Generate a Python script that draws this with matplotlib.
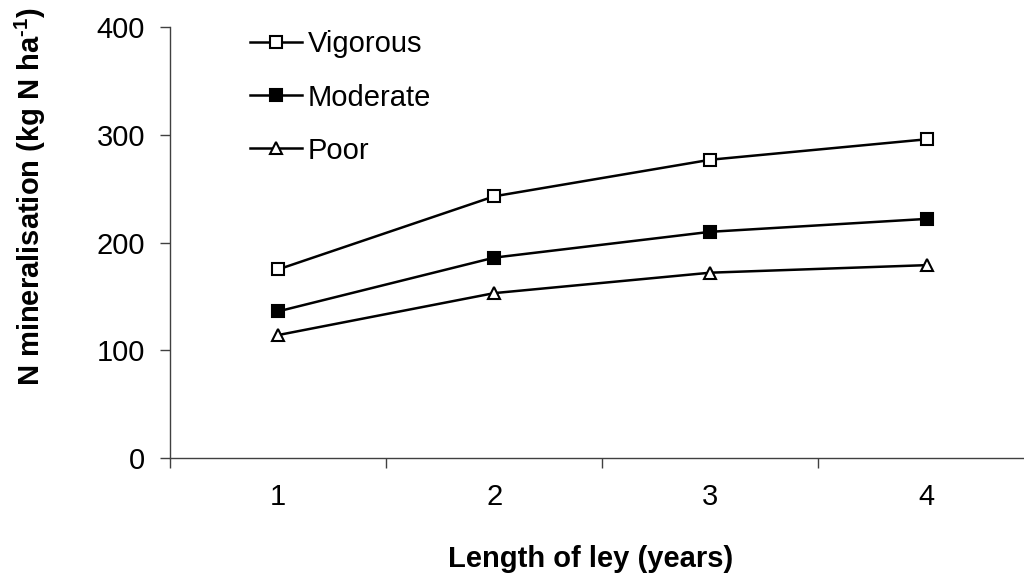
import matplotlib
matplotlib.use("Agg")
from matplotlib import pyplot as plt
from matplotlib.ticker import FixedLocator

plt.rcParams['font.family'] = ['Liberation Sans', 'DejaVu Sans']
plt.rcParams['mathtext.fontset'] = 'custom'
plt.rcParams['mathtext.rm'] = 'Liberation Sans:bold'
plt.rcParams['mathtext.bf'] = 'Liberation Sans:bold'

years = [1, 2, 3, 4]
year_labels = ['1', '2', '3', '4']
vigorous = [175, 243, 277, 296]
moderate = [136, 186, 210, 222]
poor = [114, 153, 172, 179]

fig = plt.figure(figsize=(10.24, 5.76), dpi=100)
ax = fig.add_axes([0.166, 0.2054, 0.8444, 0.747])

ax.plot(years, vigorous, color='black', lw=1.8, marker='s', ms=8,
        mfc='white', mec='black', mew=1.5, label='Vigorous')
ax.plot(years, moderate, color='black', lw=1.8, marker='s', ms=8,
        mfc='black', mec='black', mew=1.5, label='Moderate')
ax.plot(years, poor, color='black', lw=1.8, marker='^', ms=9,
        mfc='white', mec='black', mew=1.5, label='Poor')

ax.set_xlim(0.5, 4.5)
ax.set_ylim(0, 400)
ax.set_yticks([0, 100, 200, 300, 400])

# category boundaries get the tick marks, centres get the labels
ax.xaxis.set_major_locator(FixedLocator([0.5, 1.5, 2.5, 3.5, 4.5]))
ax.xaxis.set_minor_locator(FixedLocator(years))
ax.set_xticklabels([], minor=False)
ax.set_xticklabels(year_labels, minor=True)
ax.tick_params(axis='x', which='major', length=7, width=1, color='#404040')
ax.tick_params(axis='x', which='minor', length=0, labelsize=21, pad=18)
ax.tick_params(axis='y', length=7, width=1, color='#404040', labelsize=21, pad=11)

for side in ['top', 'right']:
    ax.spines[side].set_visible(False)
for side in ['left', 'bottom']:
    ax.spines[side].set_color('#404040')
    ax.spines[side].set_linewidth(1)

ax.set_xlabel('Length of ley (years)', fontsize=21, fontweight='bold')
ax.xaxis.set_label_coords(0.486, -0.202)
ax.set_ylabel('N mineralisation (kg N ha$^{\\text{-1}}$)', fontsize=21, fontweight='bold')
ax.yaxis.set_label_coords(-0.141, 0.607)

ax.legend(loc='upper left', bbox_to_anchor=(0.0785, 1.02), frameon=False,
          fontsize=21, handlelength=1.8, handletextpad=0.2, labelspacing=0.86,
          borderaxespad=0)

fig.savefig('out.png', dpi=100)
